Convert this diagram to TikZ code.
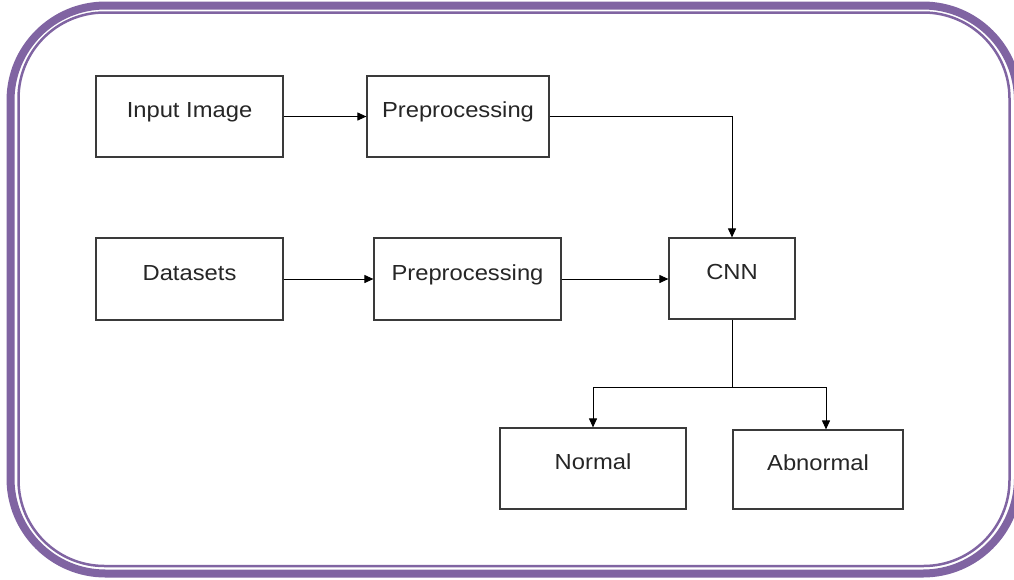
\documentclass[tikz,border=0pt]{standalone}
\usepackage{fontspec}
\setmainfont{Liberation Sans}[FakeStretch=1.09]
\usetikzlibrary{arrows.meta}
\definecolor{framepurple}{HTML}{8064A2}
\definecolor{boxgray}{HTML}{3A3A3A}
\begin{document}
\begin{tikzpicture}[x=1pt,y=-1pt,
  box/.style={draw=boxgray,line width=1.2pt,fill=white,inner sep=0pt,
    font=\fontsize{21.8}{24}\selectfont,text=black!85,text height=10pt,text depth=8pt},
  conn/.style={draw=black,line width=1pt,-{Triangle[length=9pt,width=8pt]}},
  plain/.style={draw=black,line width=1pt}]
\useasboundingbox (0,0) rectangle (1014,579);
% frame
\draw[framepurple,line width=8pt,rounded corners=95pt] (10.5,5.5) rectangle (1018,573.5);
\draw[framepurple,line width=2.5pt,rounded corners=86pt] (18.5,12.5) rectangle (1009.5,566);
% boxes
\node[box,minimum width=187pt,minimum height=81pt] (inimg) at (189.5,116.5) {Input Image};
\node[box,minimum width=182pt,minimum height=81pt] (pre1) at (458,116.5) {Preprocessing};
\node[box,minimum width=187pt,minimum height=82pt] (data) at (189.5,279) {Datasets};
\node[box,minimum width=187pt,minimum height=82pt] (pre2) at (467.5,279) {Preprocessing};
\node[box,minimum width=126pt,minimum height=81pt] (cnn) at (732,278.5) {CNN};
\node[box,minimum width=186pt,minimum height=81pt] (normal) at (593,468.5) {Normal};
\node[box,minimum width=170pt,minimum height=79pt] (abnormal) at (818,469.5) {Abnormal};
% connectors
\coordinate (split) at ([yshift=-67.5pt]cnn.south);
\draw[conn] (inimg.east) -- (pre1.west);
\draw[conn] (pre1.east) -| (cnn.north);
\draw[conn] (data.east) -- (pre2.west);
\draw[conn] (pre2.east) -- (pre2.east -| cnn.west);
\draw[plain] (cnn.south) -- (split);
\draw[conn] (split) -| (normal.north);
\draw[conn] (split) -| ([xshift=8pt]abnormal.north);
\end{tikzpicture}
\end{document}
